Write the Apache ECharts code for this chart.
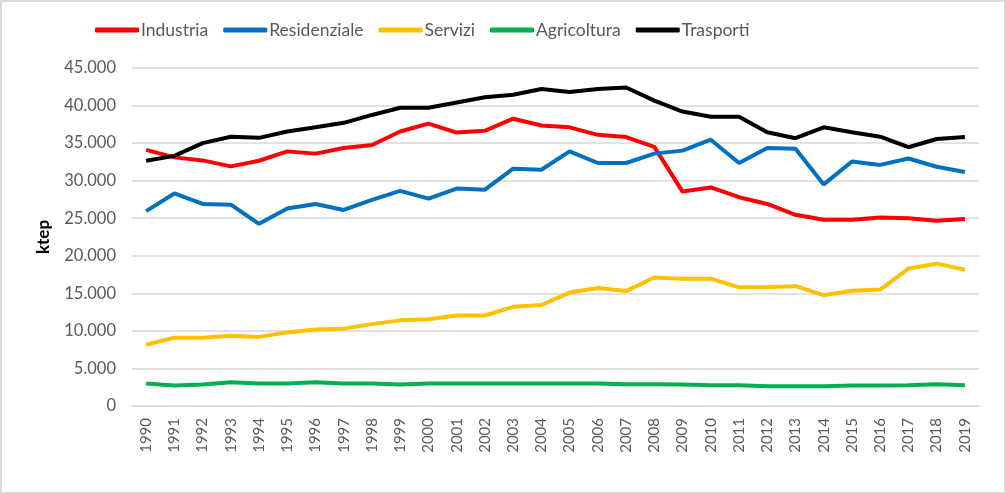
<!DOCTYPE html>
<html lang="it">

<head>
    <meta charset="UTF-8">
    <title>Consumi per settore</title>
    <style>
        * {
            margin: 0;
            padding: 0;
        }
        #chart {
            width: 1006px;
            height: 494px;
            box-sizing: border-box;
            border: 2px solid #d9d9d9;
        }
    </style>
    <script src="https://cdn.jsdelivr.net/npm/echarts@6/dist/echarts.min.js"></script>
</head>

<body>
    <div id="chart"></div>
    <script>
        // dati in ktep, 1990-2019
        var anni = ['1990', '1991', '1992', '1993', '1994', '1995', '1996', '1997', '1998', '1999',
            '2000', '2001', '2002', '2003', '2004', '2005', '2006', '2007', '2008', '2009',
            '2010', '2011', '2012', '2013', '2014', '2015', '2016', '2017', '2018', '2019']
        var industria = [34100, 33100, 32700, 31900, 32650, 33900, 33600, 34350, 34750, 36550,
            37600, 36400, 36650, 38250, 37350, 37100, 36100, 35800, 34500, 28550,
            29100, 27800, 26900, 25450, 24800, 24800, 25100, 25000, 24650, 24900]
        var residenziale = [25950, 28300, 26900, 26800, 24250, 26300, 26900, 26100, 27450, 28650,
            27600, 28950, 28800, 31600, 31450, 33900, 32350, 32350, 33600, 34000,
            35450, 32350, 34350, 34250, 29500, 32550, 32100, 32950, 31850, 31150]
        var servizi = [8150, 9100, 9100, 9350, 9200, 9800, 10200, 10300, 10900, 11400,
            11550, 12050, 12050, 13200, 13450, 15100, 15700, 15300, 17100, 16950,
            16950, 15800, 15850, 15950, 14750, 15350, 15500, 18300, 18950, 18150]
        var agricoltura = [2980, 2720, 2850, 3150, 3000, 3000, 3150, 3000, 3000, 2850,
            2980, 2980, 2980, 2980, 2980, 2980, 2980, 2900, 2900, 2850,
            2760, 2760, 2620, 2620, 2620, 2720, 2720, 2760, 2880, 2760]
        var trasporti = [32650, 33300, 35000, 35850, 35700, 36550, 37100, 37700, 38750, 39700,
            39700, 40400, 41100, 41450, 42200, 41800, 42200, 42400, 40650, 39200,
            38500, 38500, 36450, 35650, 37100, 36450, 35850, 34450, 35550, 35800]

        var nomi = ['Industria', 'Residenziale', 'Servizi', 'Agricoltura', 'Trasporti']
        var colori = ['#ff0000', '#0070c0', '#ffc000', '#00b050', '#000000']
        var valori = [industria, residenziale, servizi, agricoltura, trasporti]

        var font = 'Lato, "Open Sans", sans-serif'

        function migliaia(v) {
            return String(v).replace(/\B(?=(\d{3})+(?!\d))/g, '.')
        }

        var chart = echarts.init(document.getElementById('chart'))
        var option = {
            animation: false,
            textStyle: { fontFamily: font },
            legend: {
                top: 14,
                left: 88,
                icon: 'roundRect',
                itemWidth: 44,
                itemHeight: 5,
                itemGap: 15,
                textStyle: { color: '#595959', fontSize: 17.5, fontFamily: font, padding: [0, 0, 0, -3] },
                data: nomi
            },
            grid: { left: 130, right: 25, top: 66, bottom: 86 },
            xAxis: {
                type: 'category',
                data: anni,
                boundaryGap: true,
                axisLine: { lineStyle: { color: '#d9d9d9', width: 1.5 } },
                axisTick: { show: false },
                axisLabel: { rotate: 90, color: '#595959', fontSize: 15, margin: 12, fontFamily: font }
            },
            yAxis: {
                type: 'value',
                min: 0,
                max: 45000,
                interval: 5000,
                name: 'ktep',
                nameLocation: 'middle',
                nameGap: 80,
                nameTextStyle: { fontWeight: 'bold', fontSize: 17, color: '#000', fontFamily: font },
                axisLine: { show: false },
                axisTick: { show: false },
                axisLabel: { color: '#595959', fontSize: 16.5, margin: 16, formatter: migliaia, fontFamily: font },
                splitLine: { lineStyle: { color: '#d9d9d9', width: 1.5 } }
            },
            series: nomi.map(function (n, i) {
                return {
                    name: n,
                    type: 'line',
                    data: valori[i],
                    symbol: 'none',
                    color: colori[i],
                    lineStyle: { width: 4, color: colori[i] }
                }
            })
        }
        chart.setOption(option)
    </script>
</body>

</html>
